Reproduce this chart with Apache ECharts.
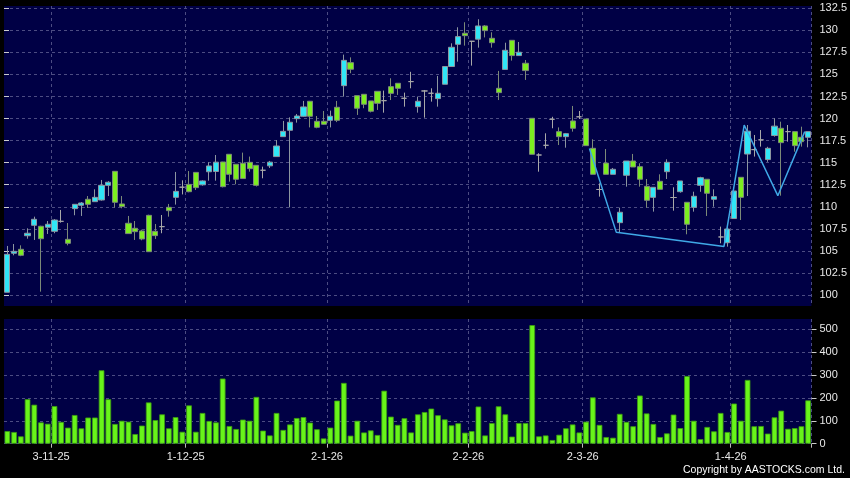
<!DOCTYPE html>
<html>
<head>
<meta charset="utf-8">
<style>
html,body{margin:0;padding:0;background:#000;}
#chart{width:850px;height:478px;}
</style>
<script src="https://cdn.jsdelivr.net/npm/echarts@6/dist/echarts.min.js"></script>
</head>
<body>
<div id="chart"></div>
<script>
const categories = [
'22-10-25','23-10-25','24-10-25','27-10-25','28-10-25','30-10-25','31-10-25',
'3-11-25','4-11-25','5-11-25','6-11-25','7-11-25','10-11-25','11-11-25','12-11-25','13-11-25','14-11-25','17-11-25','18-11-25','19-11-25','20-11-25','21-11-25','24-11-25','25-11-25','26-11-25','27-11-25','28-11-25',
'1-12-25','2-12-25','3-12-25','4-12-25','5-12-25','8-12-25','9-12-25','10-12-25','11-12-25','12-12-25','15-12-25','16-12-25','17-12-25','18-12-25','19-12-25','22-12-25','23-12-25','24-12-25','29-12-25','30-12-25','31-12-25',
'2-1-26','5-1-26','6-1-26','7-1-26','8-1-26','9-1-26','12-1-26','13-1-26','14-1-26','15-1-26','16-1-26','19-1-26','20-1-26','21-1-26','22-1-26','23-1-26','26-1-26','27-1-26','28-1-26','29-1-26','30-1-26',
'2-2-26','3-2-26','4-2-26','5-2-26','6-2-26','9-2-26','10-2-26','11-2-26','12-2-26','13-2-26','16-2-26','20-2-26','23-2-26','24-2-26','25-2-26','26-2-26','27-2-26',
'2-3-26','3-3-26','4-3-26','5-3-26','6-3-26','9-3-26','10-3-26','11-3-26','12-3-26','13-3-26','16-3-26','17-3-26','18-3-26','19-3-26','20-3-26','23-3-26','24-3-26','25-3-26','26-3-26','27-3-26','30-3-26','31-3-26',
'1-4-26','2-4-26','8-4-26','9-4-26','10-4-26','13-4-26','14-4-26','15-4-26','16-4-26','17-4-26','20-4-26','21-4-26'
];

const opens = [
100.31,104.73,105.18,106.72,107.90,107.79,107.68,107.22,108.35,106.31,
109.79,110.17,110.85,110.58,110.77,112.43,114.02,110.32,108.13,107.56,
107.26,109.03,107.22,107.75,109.94,111.07,112.22,112.54,113.90,112.49,
113.97,114.00,115.08,115.95,114.82,114.93,115.04,114.70,114.14,114.64,
115.69,117.95,118.67,119.99,120.26,121.96,119.69,119.69,119.80,121.28,
123.73,126.34,122.60,122.75,122.00,123.09,122.03,123.62,124.00,122.30,
124.19,121.35,123.13,122.87,122.26,123.89,125.90,128.42,129.67,128.76,
129.00,130.50,129.10,123.43,125.57,128.87,127.14,126.27,120.03,115.87,
116.97,119.92,118.52,117.95,119.73,120.20,119.95,116.63,111.96,114.95,
113.68,108.20,113.57,115.19,114.55,112.32,111.07,112.89,113.98,111.05,
111.71,110.51,109.94,112.43,113.12,110.85,106.58,105.93,108.67,113.34,
115.98,116.48,117.59,115.35,118.08,118.90,118.52,118.52,117.88,117.88
];
const closes = [
104.61,104.95,104.50,107.00,108.58,106.38,108.02,108.50,108.35,105.86,
110.28,110.43,110.28,111.07,112.43,112.78,110.51,110.02,106.96,107.18,
106.35,104.91,106.73,107.75,109.56,111.75,112.22,111.71,112.17,112.93,
114.63,115.06,112.28,113.68,113.12,113.20,114.32,112.43,114.14,115.06,
116.89,118.55,119.58,120.29,121.32,120.26,119.01,119.35,120.26,119.80,
126.60,125.59,121.17,121.62,120.83,121.73,122.03,122.86,123.43,122.30,
124.19,121.96,123.13,122.87,122.87,125.90,128.08,129.29,129.40,128.76,
130.50,129.97,128.60,122.94,127.74,127.14,127.52,125.44,115.95,115.87,
116.97,119.92,117.95,118.29,118.90,120.20,116.93,113.68,111.96,113.68,
114.25,109.38,115.19,114.51,113.12,110.73,112.21,111.98,115.04,111.05,
112.93,108.02,111.19,113.30,111.53,111.15,106.58,107.48,111.79,111.07,
118.57,116.48,117.59,116.63,119.14,117.27,118.52,116.93,117.38,118.52
];
const lows = [
100.31,104.50,104.40,106.38,106.24,100.38,106.92,107.00,108.20,105.63,
109.04,108.96,109.86,110.58,110.70,111.22,109.90,109.83,106.96,106.24,
106.20,104.91,106.35,107.00,108.88,110.25,111.40,111.64,111.90,112.40,
112.96,112.96,112.20,112.85,112.55,113.20,113.98,112.30,113.23,114.40,
115.69,117.95,109.94,119.54,120.20,119.00,118.90,119.30,119.00,119.60,
122.49,125.14,120.41,121.17,120.70,120.98,120.67,122.10,122.68,121.35,
123.43,120.67,120.10,121.92,121.35,123.89,125.90,126.45,128.27,126.00,
128.04,129.20,128.04,122.10,125.57,126.57,127.10,124.38,115.95,113.98,
116.59,118.90,117.00,116.70,118.52,119.95,116.93,113.68,111.15,113.68,
113.68,107.10,112.28,114.51,112.28,109.90,109.45,111.98,113.15,109.56,
111.60,106.88,109.45,111.70,108.96,110.01,105.86,105.48,108.67,108.50,
111.22,115.69,116.82,115.10,117.95,111.26,117.38,116.25,116.82,116.74
];
const highs = [
105.56,105.78,105.63,107.56,108.88,107.85,108.39,108.60,109.64,108.16,
110.30,110.54,111.22,111.98,113.04,112.90,114.02,111.22,108.96,108.39,
107.40,109.10,108.05,109.07,110.32,113.95,113.00,114.05,113.90,113.00,
115.05,115.87,115.10,115.95,114.82,116.14,115.69,114.70,114.55,115.20,
117.57,119.73,120.14,120.52,122.00,122.00,120.29,120.86,120.90,122.00,
127.25,126.94,122.60,122.75,122.00,123.09,123.17,124.57,124.00,122.94,
125.30,122.49,123.24,123.43,124.83,125.90,128.53,130.35,130.92,128.80,
131.26,130.60,129.78,125.40,128.60,128.87,128.68,126.64,120.03,116.07,
118.33,120.20,119.00,118.37,121.43,120.86,119.95,117.65,112.66,116.55,
114.40,109.90,115.19,115.99,114.93,113.15,112.21,113.68,115.38,112.21,
112.93,110.51,111.71,113.40,113.12,111.98,107.75,107.75,111.79,113.34,
119.27,118.14,118.70,116.80,120.03,119.65,119.27,118.52,119.08,118.52
];
const volumes = [
55,51,32,194,170,93,87,164,95,70,
125,67,114,114,320,194,86,100,96,42,
79,180,103,128,67,116,52,167,52,134,
99,93,284,77,64,105,100,204,57,36,
134,60,84,112,116,92,63,23,70,188,
265,35,100,49,58,38,231,118,82,111,
49,128,138,153,124,106,80,89,48,55,
162,36,90,163,128,31,90,90,517,32,
36,16,39,67,84,49,96,202,82,29,
26,130,95,76,210,132,86,29,45,127,
68,295,100,20,73,54,134,51,175,100,
278,76,77,44,115,144,65,68,76,189
];
const zigzagDates = ['3-3-26','9-3-26','31-3-26','8-4-26','15-4-26','21-4-26'];
const zigzagValues = [116.6,107.1,105.5,119.27,111.26,118.52];

const tickLabels = ['3-11-25','1-12-25','2-1-26','2-2-26','2-3-26','1-4-26'];
const priceTicks = [100,102.5,105,107.5,110,112.5,115,117.5,120,122.5,125,127.5,130,132.5];
const volumeTicks = [0,100,200,300,400,500];

const tickIdx = tickLabels.map(l => categories.indexOf(l));
const isTick = (i) => tickIdx.indexOf(i) >= 0;

const NAVY = '#000045';
const GRIDC = '#4c4c82';
const TXT = '#e8e8e8';
const FONT = '"Liberation Sans", Arial, sans-serif';

const candleData = categories.map((_, i) => [opens[i], closes[i], lows[i], highs[i]]);
const zigzagData = zigzagDates.map((d, k) => [categories.indexOf(d), zigzagValues[k]]);

// price panel geometry: 100 at y=295, 132.5 at y=8.3, panel 6..306
const pTop = 6, pBot = 306, p100 = 295, p1325 = 8.3;
const pScale = (p100 - p1325) / 32.5;
const pMin = 100 - (pBot - p100) / pScale;
const pMax = 132.5 + (p1325 - pTop) / pScale;
// volume panel: 0 at 443.7, 500 at 329, panel 319..443.7
const vTop = 319, vBot = 443.7, v500 = 329;
const vScale = (vBot - v500) / 500;
const vMax = 500 + (v500 - vTop) / vScale;

const chart = echarts.init(document.getElementById('chart'), null, {renderer: 'canvas'});
chart.setOption({
  backgroundColor: '#000000',
  animation: false,
  grid: [
    {left: 4, top: pTop, width: 807.5, height: pBot - pTop, show: true, backgroundColor: NAVY, borderWidth: 0},
    {left: 4, top: vTop, width: 807.5, height: vBot - vTop, show: true, backgroundColor: NAVY, borderWidth: 0}
  ],
  xAxis: [
    {type: 'category', gridIndex: 0, data: categories, boundaryGap: true,
     axisLine: {show: false}, axisTick: {show: false}, axisLabel: {show: false},
     splitLine: {show: true, interval: (i) => isTick(i), lineStyle: {color: GRIDC, type: [3, 3], width: 1}}},
    {type: 'category', gridIndex: 1, data: categories, boundaryGap: true,
     axisLine: {show: false},
     axisTick: {show: true, interval: (i) => isTick(i), length: 4, lineStyle: {color: '#bbbbbb'}},
     axisLabel: {show: true, interval: (i) => isTick(i), color: TXT, fontSize: 11, fontFamily: FONT, margin: 8, padding: [0, 6.7, 0, 0]},
     splitLine: {show: true, interval: (i) => isTick(i), lineStyle: {color: GRIDC, type: [3, 3], width: 1}}},
    {type: 'value', gridIndex: 0, min: 0, max: categories.length, show: false}
  ],
  yAxis: [
    {type: 'value', gridIndex: 0, position: 'right', min: pMin, max: pMax, scale: true,
     axisLine: {show: false},
     axisTick: {show: true, length: 5, customValues: priceTicks, lineStyle: {color: '#cccccc'}},
     axisLabel: {show: true, customValues: priceTicks, color: TXT, fontSize: 11, fontFamily: FONT, margin: 8,
                 formatter: (v) => String(v)},
     splitLine: {show: true, lineStyle: {color: GRIDC, type: [3, 3], width: 1}}},
    {type: 'value', gridIndex: 1, position: 'right', min: 0, max: vMax,
     axisLine: {show: false},
     axisTick: {show: true, length: 5, customValues: volumeTicks, lineStyle: {color: '#cccccc'}},
     axisLabel: {show: true, customValues: volumeTicks, color: TXT, fontSize: 11, fontFamily: FONT, margin: 8,
                 formatter: (v) => String(v)},
     splitLine: {show: true, lineStyle: {color: GRIDC, type: [3, 3], width: 1}}}
  ],
  series: [
    {type: 'candlestick', xAxisIndex: 0, yAxisIndex: 0, data: candleData, barWidth: '84%',
     itemStyle: {color: '#30e6f6', color0: '#7cee20', borderColor: '#8c96a0', borderColor0: '#7c8a78',
                 borderColorDoji: '#a8a8a8', borderWidth: 1}, z: 3},
    {type: 'line', xAxisIndex: 2, yAxisIndex: 0, data: zigzagData, symbol: 'none',
     lineStyle: {color: '#3fa8e6', width: 1.5}, z: 5},
    {type: 'bar', xAxisIndex: 1, yAxisIndex: 1, data: volumes, barWidth: '84%',
     itemStyle: {color: '#68f41a', borderColor: '#3c9c12', borderWidth: 0.8}}
  ],
  graphic: [
    {type: 'text', right: 5, top: 465,
     style: {text: 'Copyright by AASTOCKS.com Ltd.', fill: '#ffffff', fontSize: 10.5, fontFamily: FONT}}
  ]
});
</script>
</body>
</html>
